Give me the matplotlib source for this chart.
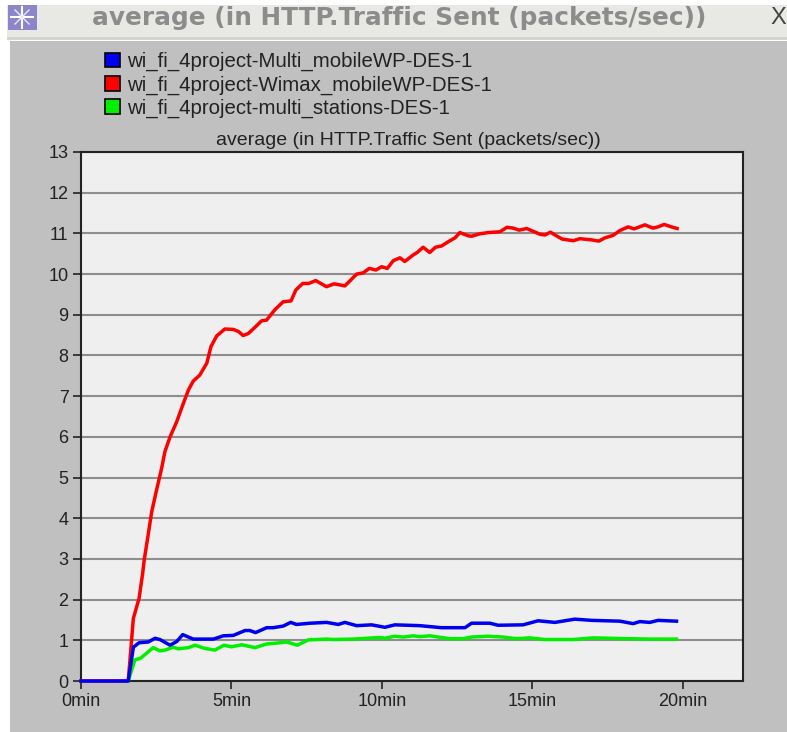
import matplotlib
matplotlib.use("Agg")
import matplotlib.pyplot as plt
from matplotlib.patches import Patch, Rectangle

plt.rcParams['font.family'] = ['Liberation Sans', 'DejaVu Sans']

W, H = 787, 732

series_names = ['wi_fi_4project-Multi_mobileWP-DES-1', 'wi_fi_4project-Wimax_mobileWP-DES-1', 'wi_fi_4project-multi_stations-DES-1']
window_title = 'average (in HTTP.Traffic Sent (packets/sec))'
x_ticks = [0, 5, 10, 15, 20]
x_labels = ['0min', '5min', '10min', '15min', '20min']
y_ticks = list(range(0, 14))

red_t = [0, 1.57, 1.74, 1.93, 2.05, 2.10, 2.24, 2.35, 2.51, 2.68, 2.79, 2.96, 3.18, 3.40, 3.57, 3.73, 3.95, 4.18, 4.32, 4.51, 4.78,
         5.06, 5.23, 5.39, 5.56, 5.78, 6.00, 6.17, 6.45, 6.72, 6.98, 7.14, 7.37, 7.57, 7.80, 8.16, 8.41, 8.77, 9.16, 9.38, 9.58, 9.80,
         9.99, 10.18, 10.38, 10.60, 10.76, 11.04, 11.17, 11.37, 11.59, 11.78, 11.98, 12.26, 12.43, 12.59, 12.87, 12.98, 13.26, 13.53,
         13.92, 14.16, 14.36, 14.56, 14.81, 15.03, 15.25, 15.42, 15.60, 15.80, 15.99, 16.36, 16.58, 16.97, 17.21, 17.41, 17.68, 17.91,
         18.18, 18.38, 18.74, 19.01, 19.18, 19.38, 19.62, 19.81]
red_v = [0, 0, 1.54, 2.03, 2.65, 2.97, 3.63, 4.16, 4.69, 5.23, 5.64, 6.00, 6.37, 6.82, 7.15, 7.37, 7.52, 7.81, 8.22, 8.48, 8.65,
         8.64, 8.59, 8.49, 8.54, 8.69, 8.85, 8.87, 9.13, 9.32, 9.34, 9.61, 9.77, 9.77, 9.84, 9.69, 9.76, 9.71, 10.00, 10.03, 10.14, 10.10,
         10.18, 10.14, 10.33, 10.40, 10.31, 10.47, 10.53, 10.66, 10.53, 10.66, 10.69, 10.82, 10.89, 11.02, 10.94, 10.93, 10.99, 11.02,
         11.04, 11.15, 11.13, 11.08, 11.12, 11.05, 10.98, 10.96, 11.03, 10.94, 10.86, 10.82, 10.87, 10.84, 10.81, 10.89, 10.95, 11.07,
         11.16, 11.11, 11.21, 11.13, 11.16, 11.22, 11.16, 11.12]

blue_t = [0, 1.57, 1.74, 1.93, 2.24, 2.46, 2.62, 2.96, 3.18, 3.38, 3.73, 4.40, 4.73, 5.06, 5.45, 5.61, 5.80, 6.17, 6.39, 6.72, 6.97,
          7.16, 7.61, 8.16, 8.55, 8.77, 9.16, 9.66, 10.10, 10.43, 11.26, 11.98, 12.76, 12.98, 13.59, 13.86, 14.69, 15.19, 15.75, 16.41,
          16.97, 17.91, 18.35, 18.57, 18.90, 19.18, 19.79]
blue_v = [0, 0, 0.83, 0.94, 0.96, 1.05, 1.02, 0.88, 0.97, 1.14, 1.03, 1.03, 1.11, 1.12, 1.24, 1.24, 1.19, 1.31, 1.31, 1.35, 1.44,
          1.39, 1.42, 1.44, 1.39, 1.44, 1.36, 1.38, 1.32, 1.38, 1.36, 1.31, 1.31, 1.42, 1.42, 1.37, 1.38, 1.48, 1.44, 1.52,
          1.49, 1.47, 1.41, 1.46, 1.44, 1.49, 1.47]

green_t = [1.57, 1.79, 1.98, 2.40, 2.62, 2.79, 3.07, 3.23, 3.57, 3.79, 4.12, 4.45, 4.75, 5.00, 5.34, 5.78, 6.17, 6.50, 6.83, 7.19,
           7.55, 8.16, 8.38, 9.05, 9.93, 10.10, 10.43, 10.71, 11.04, 11.26, 11.59, 12.26, 12.70, 12.98, 13.53, 14.03, 14.47, 14.91,
           15.41, 16.36, 17.02, 18.13, 18.90, 19.79]
green_v = [0, 0.52, 0.56, 0.82, 0.74, 0.76, 0.83, 0.79, 0.82, 0.88, 0.80, 0.76, 0.88, 0.84, 0.89, 0.82, 0.91, 0.93, 0.96, 0.88,
           1.01, 1.03, 1.02, 1.03, 1.07, 1.05, 1.10, 1.08, 1.11, 1.09, 1.11, 1.04, 1.04, 1.08, 1.10, 1.08, 1.04, 1.06,
           1.02, 1.02, 1.06, 1.04, 1.03, 1.03]

fig = plt.figure(figsize=(W / 100, H / 100), dpi=100, facecolor='white')

# window chrome, in pixel coords
bg = fig.add_axes([0, 0, 1, 1], zorder=0)
bg.set_xlim(0, W); bg.set_ylim(H, 0); bg.axis('off')
bg.add_patch(Rectangle((7, 5), W - 7, 32, fc='#e8e8e4', ec='none'))
bg.add_patch(Rectangle((7, 37), W - 7, 3, fc='#d4d4d0', ec='none'))
bg.add_patch(Rectangle((10, 41), W - 10, H - 41, fc='#c0c0c0', ec='none'))
bg.add_patch(Rectangle((8, 5), 29, 25, fc='#8a86c8', ec='none'))
bg.plot([22, 22], [7, 28], color='white', lw=1.5)
bg.plot([11, 33], [17, 17], color='white', lw=1.5)
bg.plot([15, 29], [10, 24], color='#e8e8ff', lw=1)
bg.plot([29, 15], [10, 24], color='#e8e8ff', lw=1)
bg.text(399, 18, window_title, ha='center', va='center', fontsize=17.8, fontweight='bold', color='#8c8c8c', family='DejaVu Sans')
bg.text(778, 18, 'X', ha='center', va='center', fontsize=17, color='#444444')

ax = fig.add_axes([81 / W, 1 - 681 / H, (743 - 81) / W, (681 - 152) / H], zorder=1, facecolor='#efefef')
ax.set_xlim(0, 22)
ax.set_ylim(0, 13)
ax.set_yticks(y_ticks)
ax.set_xticks(x_ticks)
ax.set_xticklabels(x_labels)
ax.grid(axis='y', color='#8e8e8e', linewidth=1.5)
ax.set_axisbelow(True)
ax.tick_params(length=6, width=1.2, color='#222222', labelsize=13, labelcolor='#222222', pad=3)
for s in ax.spines.values():
    s.set_linewidth(1.5); s.set_color('#222222')

line_kw = dict(linewidth=2.5, solid_joinstyle='round', clip_on=False)
ax.plot(red_t, red_v, color='#ff0000', zorder=3, **line_kw)
ax.plot(green_t, green_v, color='#00f000', zorder=4, **line_kw)
ax.plot(blue_t, blue_v, color='#0000f0', zorder=5, **line_kw)

ax.text(0.495, 1.006, window_title, transform=ax.transAxes, ha='center', va='bottom', fontsize=14, color='#222222')

handles = [Patch(fc=c, ec='black', lw=1.2) for c in ['#0000f0', '#ff0000', '#00f000']]
fig.legend(handles, series_names, loc='upper left', bbox_to_anchor=(103 / W, 1 - 50 / H), frameon=False,
           fontsize=14.7, handlelength=0.72, handleheight=0.72, handletextpad=0.35, labelspacing=0.2,
           borderpad=0.1, borderaxespad=0, labelcolor='#222222')

fig.savefig('out.png', dpi=100, facecolor='white')
